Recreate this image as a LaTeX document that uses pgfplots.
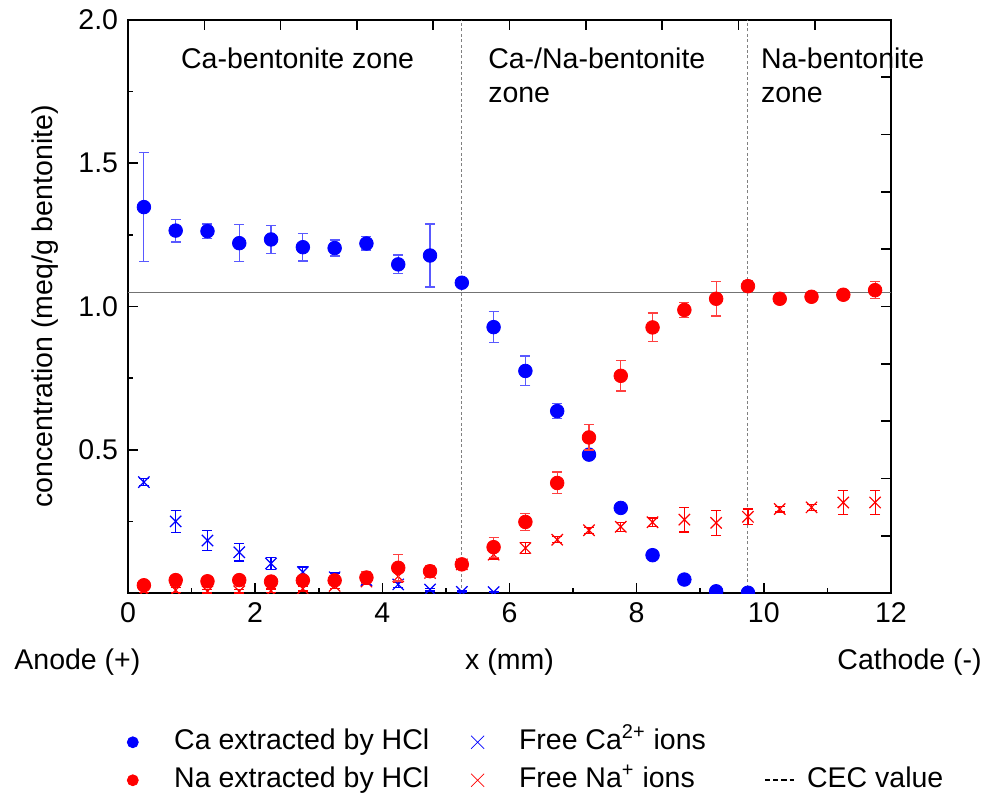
\documentclass[border=0pt]{standalone}
\usepackage{fontspec}
\setmainfont{Liberation Sans}
\usepackage{pgfplots}
\pgfplotsset{compat=1.18}
\usepackage{pgfplotstable}

\pgfplotstableread{
x y e
0.25 1.347 0.190
0.75 1.265 0.040
1.25 1.263 0.025
1.75 1.221 0.065
2.25 1.234 0.050
2.75 1.207 0.048
3.25 1.204 0.028
3.75 1.220 0.023
4.25 1.147 0.033
4.75 1.178 0.110
5.25 1.083 0.010
5.75 0.928 0.055
6.25 0.775 0.052
6.75 0.635 0.027
7.25 0.483 0.015
7.75 0.297 0.000
8.25 0.132 0.000
8.75 0.047 0.000
9.25 0.006 0.000
9.75 0.001 0.000
}\caext

\pgfplotstableread{
x y e
0.25 0.027 0.005
0.75 0.045 0.008
1.25 0.041 0.008
1.75 0.045 0.010
2.25 0.040 0.008
2.75 0.044 0.010
3.25 0.044 0.012
3.75 0.054 0.020
4.25 0.088 0.046
4.75 0.076 0.020
5.25 0.100 0.015
5.75 0.160 0.035
6.25 0.248 0.030
6.75 0.384 0.038
7.25 0.543 0.044
7.75 0.758 0.053
8.25 0.927 0.050
8.75 0.988 0.027
9.25 1.027 0.060
9.75 1.071 0.020
10.25 1.027 0.008
10.75 1.034 0.008
11.25 1.041 0.008
11.75 1.057 0.030
}\naext

\pgfplotstableread{
x y e
0.25 0.387 0.012
0.75 0.250 0.038
1.25 0.183 0.034
1.75 0.142 0.030
2.25 0.103 0.020
2.75 0.073 0.018
3.25 0.055 0.015
3.75 0.045 0.010
4.25 0.030 0.010
4.75 0.012 0.005
5.25 0.004 0.003
5.75 0.003 0.002
}\cafree

\pgfplotstableread{
x y e
0.25 0.008 0.005
0.75 0.010 0.008
1.25 0.006 0.006
1.75 0.006 0.006
2.25 0.008 0.006
2.75 0.015 0.008
3.25 0.025 0.010
3.75 0.040 0.010
4.25 0.058 0.020
4.75 0.070 0.010
5.25 0.100 0.015
5.75 0.134 0.015
6.25 0.157 0.020
6.75 0.186 0.010
7.25 0.219 0.010
7.75 0.231 0.015
8.25 0.247 0.015
8.75 0.256 0.043
9.25 0.245 0.044
9.75 0.266 0.027
10.25 0.293 0.010
10.75 0.299 0.010
11.25 0.316 0.042
11.75 0.316 0.041
}\nafree

\begin{document}
\fontsize{14.25pt}{17pt}\selectfont
\begin{tikzpicture}
\useasboundingbox (-64pt,-100pt) rectangle (428.5pt,296.5pt);
% secondary axis: ticks on top and right
\begin{axis}[
  at={(0,0)}, anchor=south west,
  scale only axis, width=381.5pt, height=286.5pt,
  xmin=0, xmax=12, ymin=0, ymax=2,
  axis line style={line width=1pt},
  every tick/.style={black, line width=0.8pt},
  major tick length=5pt, tick align=inside,
  xtick={1.2,2.4,...,10.8}, ytick={0.2,0.4,...,1.8},
  xticklabels={}, yticklabels={},
  xtick pos=top, ytick pos=right,
]
\end{axis}
\begin{axis}[
  at={(0,0)}, anchor=south west,
  scale only axis, width=381.5pt, height=286.5pt,
  xmin=0, xmax=12, ymin=0, ymax=2,
  axis line style={line width=1pt},
  every tick/.style={black, line width=0.8pt},
  major tick length=5pt, minor tick length=2.5pt,
  tick align=inside,
  xtick={0,2,...,12}, minor xtick={1,3,...,11},
  ytick={0.5,1,1.5,2}, minor ytick={0.25,0.75,1.25,1.75},
  xtick pos=bottom, ytick pos=left,
  y tick label style={/pgf/number format/.cd, fixed, fixed zerofill, precision=1, /tikz/.cd},
  /pgf/number format/assume math mode=true,
  xlabel={x (mm)},
  ylabel={concentration (meq/g bentonite)},
  every axis x label/.style={at={(axis description cs:0.5,0)}, anchor=center, yshift=-34.5pt},
  every axis y label/.style={at={(axis description cs:-0.109,0.5)}, anchor=center, rotate=90},
  clip marker paths=true,
  legend columns=3,
  legend cell align=left,
  legend style={at={(0,0)}, anchor=north west, xshift=-0.75pt, yshift=-67.3pt,
    draw=none, fill=none, inner sep=0pt, row sep=4.75pt,
    nodes={inner sep=0pt, text height=0.75em, text depth=0.25em},
    /tikz/column 1/.style={column sep=17.75pt},
    /tikz/column 2/.style={column sep=20.75pt},
    /tikz/column 3/.style={column sep=17.25pt},
    /tikz/column 4/.style={column sep=29pt},
    /tikz/column 5/.style={column sep=6pt}},
  after end axis/.append code={
    \node[anchor=north west, inner sep=0pt, align=left] at (axis cs:0.83,1.904) {Ca-bentonite zone};
    \node[anchor=north west, inner sep=0pt, align=left] at (axis cs:5.66,1.904) {Ca-/Na-bentonite\\zone};
    \node[anchor=north west, inner sep=0pt, align=left] at (axis cs:9.95,1.904) {Na-bentonite\\zone};
    \node[anchor=west, inner sep=0pt] at ([shift={(-57pt,-34.5pt)}]rel axis cs:0,0) {Anode (+)};
    \node[anchor=east, inner sep=0pt] at ([shift={(45.5pt,-34.5pt)}]rel axis cs:1,0) {Cathode (-)};
  },
]
% zone separators and CEC
\addplot[gray, line width=0.5pt, dash pattern=on 1.5pt off 1.2pt, forget plot] coordinates {(5.25,0) (5.25,2)};
\addplot[gray, line width=0.5pt, dash pattern=on 1.5pt off 1.2pt, forget plot] coordinates {(9.75,0) (9.75,2)};
\addplot[gray!90!black, line width=0.6pt, forget plot] coordinates {(0,1.05) (12,1.05)};

% Free ions
\addplot[only marks, mark=x, mark size=4pt, red, mark options={line width=0.6pt}, forget plot,
  error bars/.cd, y dir=both, y explicit,
  error bar style={red, line width=0.6pt},
  error mark options={rotate=90, red, mark size=2.5pt, line width=0.6pt}]
  table[x=x, y=y, y error=e]{\nafree};
\addplot[only marks, mark=x, mark size=4pt, blue, mark options={line width=0.6pt}, forget plot,
  error bars/.cd, y dir=both, y explicit,
  error bar style={blue, line width=0.6pt},
  error mark options={rotate=90, blue, mark size=2.5pt, line width=0.6pt}]
  table[x=x, y=y, y error=e]{\cafree};
% extracted
\addplot[only marks, mark=*, mark size=3.4pt, blue, forget plot,
  error bars/.cd, y dir=both, y explicit,
  error bar style={blue!65, line width=0.6pt},
  error mark options={rotate=90, blue!65, mark size=2.5pt, line width=0.6pt}]
  table[x=x, y=y, y error=e]{\caext};
\addplot[only marks, mark=*, mark size=3.4pt, red, forget plot,
  error bars/.cd, y dir=both, y explicit,
  error bar style={red!75, line width=0.6pt},
  error mark options={rotate=90, red!75, mark size=2.5pt, line width=0.6pt}]
  table[x=x, y=y, y error=e]{\naext};

% legend
\addlegendimage{legend image code/.code={\fill[blue] (2.75pt,0pt) circle (2.75pt);}}
\addlegendentry{Ca extracted by HCl}
\addlegendimage{legend image code/.code={\draw[blue, line width=0.4pt] (0pt,-3.25pt) -- (6.5pt,3.25pt) (0pt,3.25pt) -- (6.5pt,-3.25pt);}}
\addlegendentry{Free Ca\textsuperscript{2+} ions}
\addlegendimage{legend image code/.code={}}
\addlegendentry{}
\addlegendimage{legend image code/.code={\fill[red] (2.75pt,0pt) circle (2.75pt);}}
\addlegendentry{Na extracted by HCl}
\addlegendimage{legend image code/.code={\draw[red, line width=0.4pt] (0pt,-3.25pt) -- (6.5pt,3.25pt) (0pt,3.25pt) -- (6.5pt,-3.25pt);}}
\addlegendentry{Free Na\textsuperscript{+} ions}
\addlegendimage{legend image code/.code={\draw[black, line width=1.1pt, dash pattern=on 2.6pt off 1.5pt] (0pt,0pt) -- (14.5pt,0pt);}}
\addlegendentry{CEC value}
\end{axis}
\end{tikzpicture}
\end{document}
